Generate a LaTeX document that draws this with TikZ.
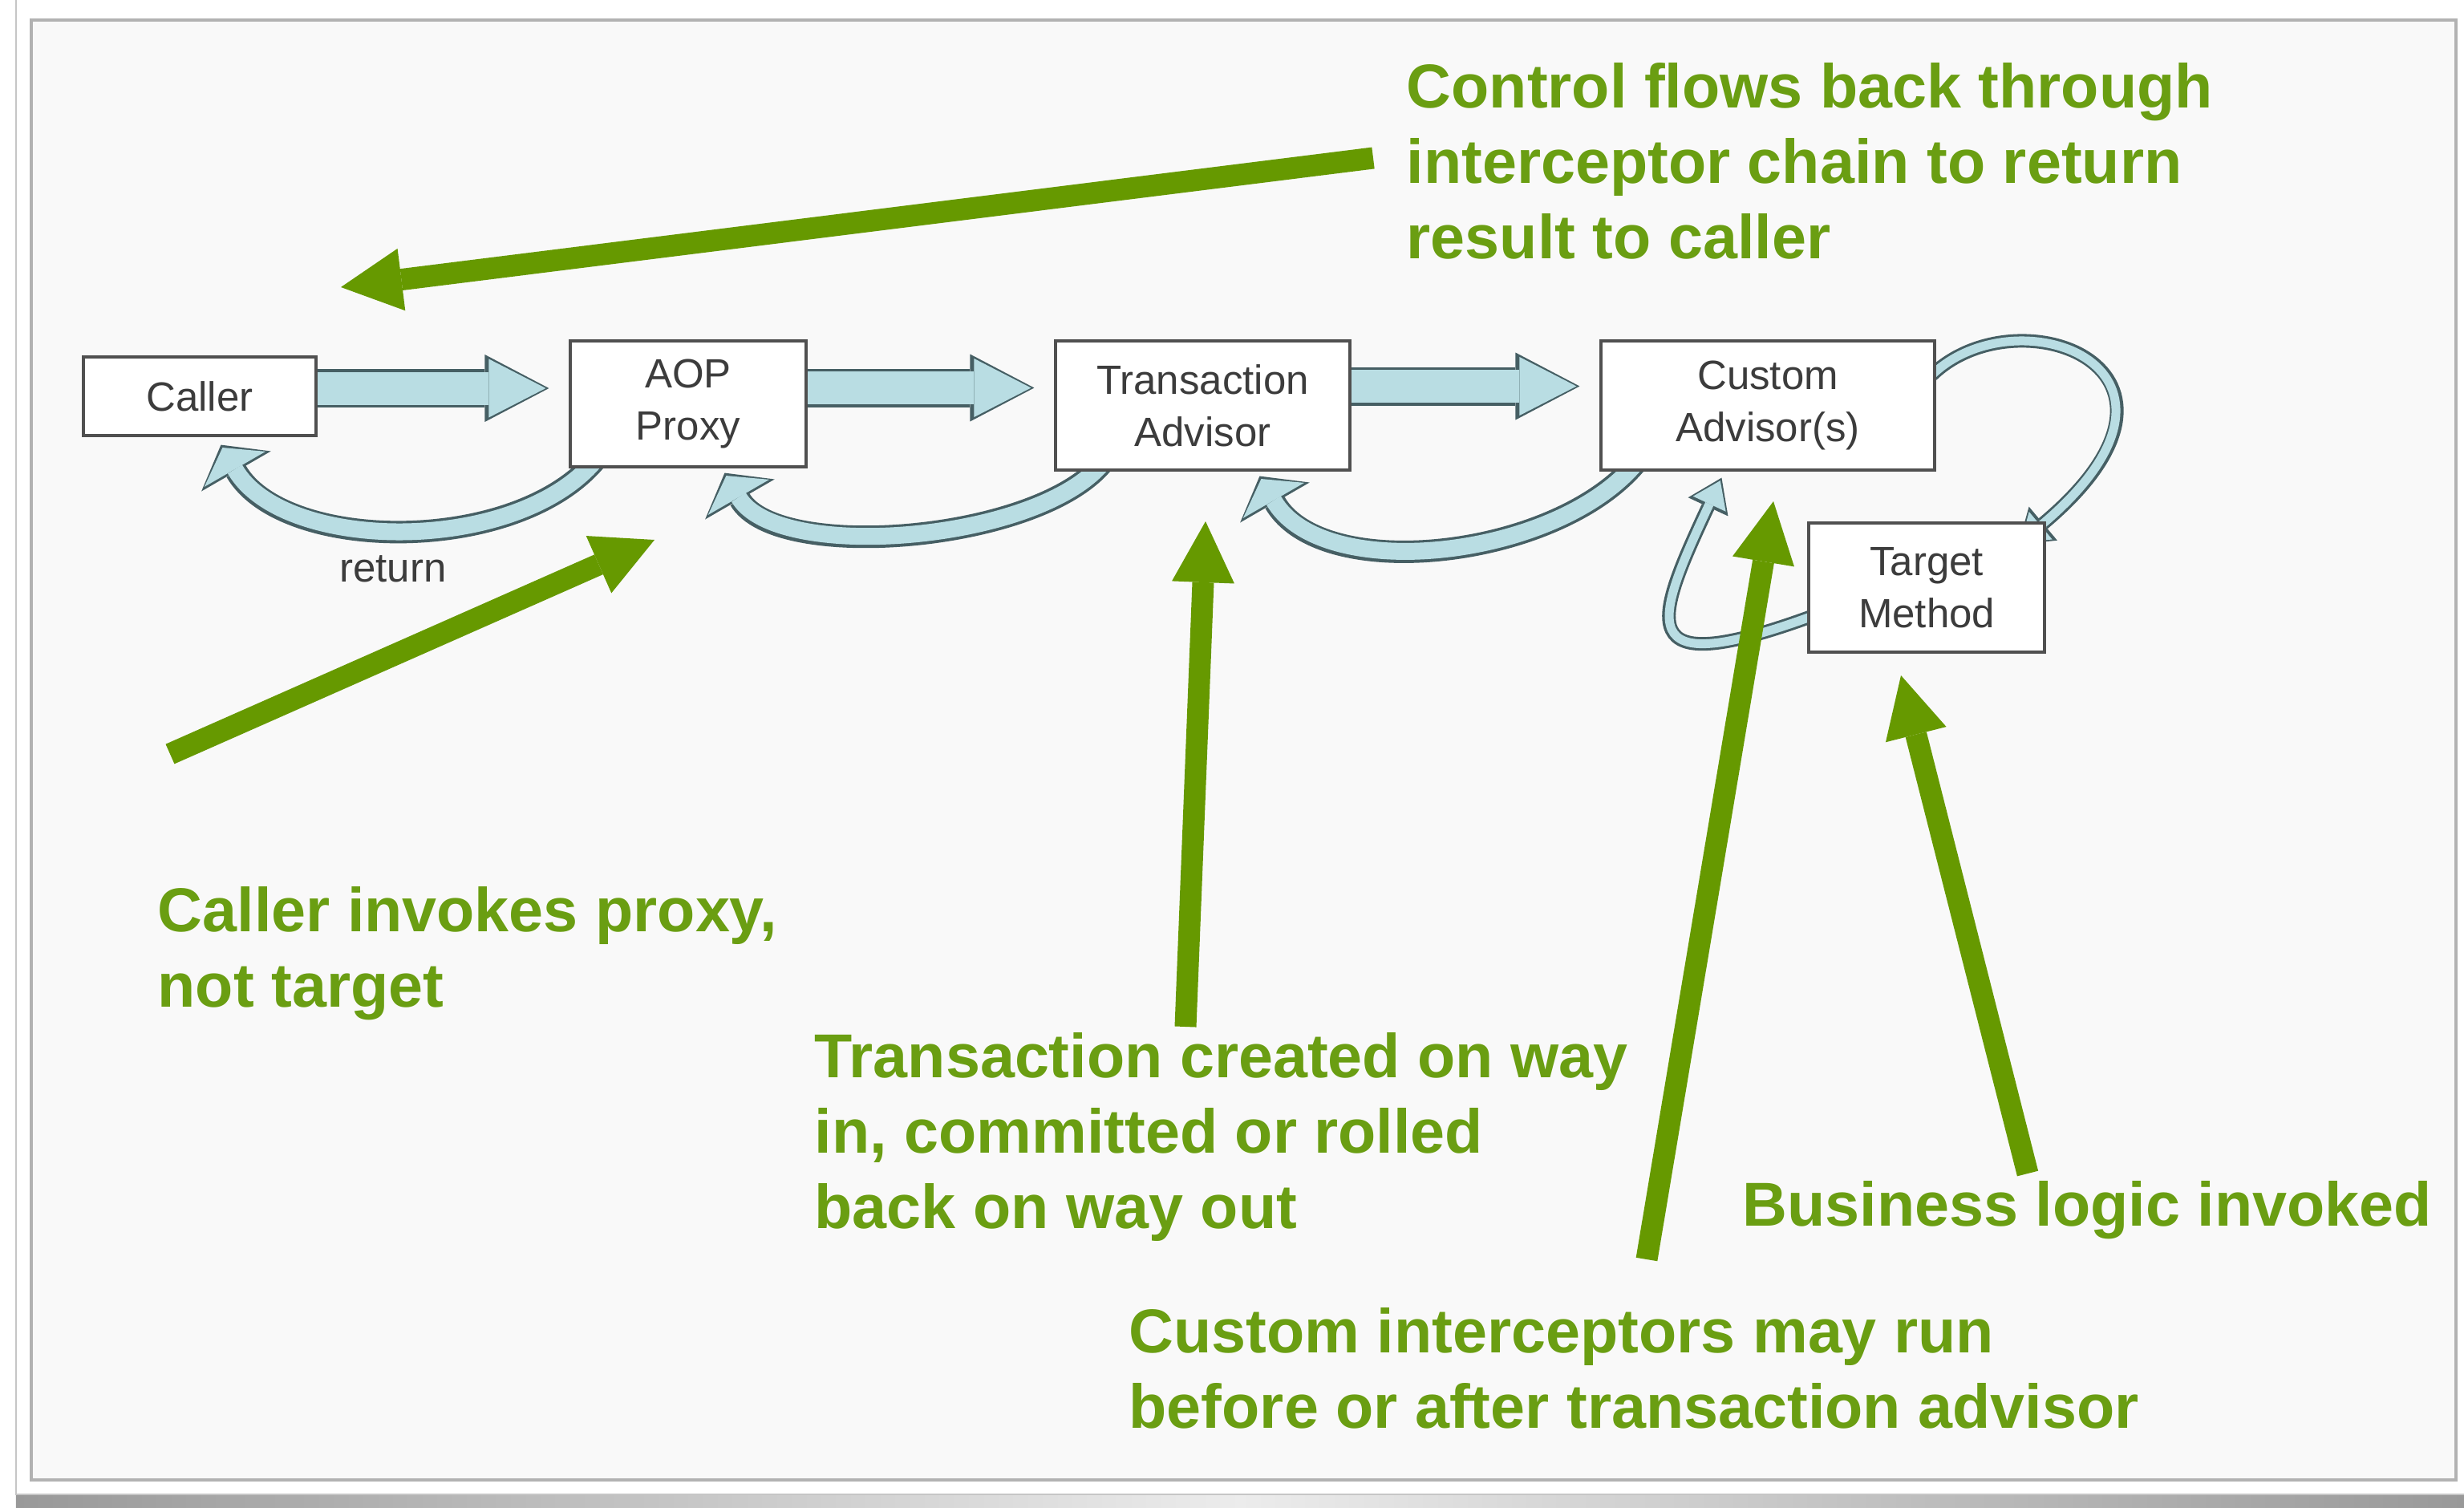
\documentclass[tikz,border=0pt]{standalone}
\usepackage{fontspec}
\setmainfont{Liberation Sans}
\usetikzlibrary{arrows.meta}

\definecolor{panelbg}{RGB}{249,249,249}
\definecolor{boxedge}{RGB}{80,80,80}
\definecolor{boxtext}{RGB}{60,60,60}
\definecolor{bandfill}{RGB}{185,221,227}
\definecolor{bandedge}{RGB}{70,95,100}
\definecolor{arrowgreen}{RGB}{102,153,0}
\definecolor{notegreen}{RGB}{106,158,18}

\pgfdeclarelayer{back}
\pgfdeclarelayer{bands}
\pgfsetlayers{back,bands,main}

\begin{document}
\begin{tikzpicture}
\tikzset{box/.style={rectangle,draw=boxedge,fill=white,line width=0.9pt,inner sep=0pt,align=center,text=boxtext,font=\fontsize{14.5}{18.5}\selectfont},
	flow/.style={draw=bandedge,line width=0.48cm,-{Triangle[width=0.84cm,length=0.8cm,line width=0pt]},shorten >=0.25cm,
		postaction={draw=bandfill,line width=0.41cm,-{Triangle[width=0.73cm,length=0.71cm,line width=0pt]},shorten >=0.29cm}},
	back/.style={draw=bandedge,line width=0.28cm,-{Triangle[width=1.0cm,length=0.38cm,line width=0pt]},
		postaction={draw=bandfill,line width=0.21cm,-{Triangle[width=0.88cm,length=0.31cm,line width=0pt]},shorten >=0.04cm}},
	thinband/.style={draw=bandedge,line width=0.17cm,-{Triangle[width=0.55cm,length=0.40cm,line width=0pt]},
		postaction={draw=bandfill,line width=0.11cm,-{Triangle[width=0.45cm,length=0.32cm,line width=0pt]},shorten >=0.04cm}},
	pointer/.style={draw=arrowgreen,line width=0.27cm,-{Triangle[width=0.78cm,length=0.76cm,line width=0pt]}},
	note/.style={anchor=north west,inner sep=0pt,align=left,text=notegreen,font=\bfseries\fontsize{22}{26.7}\selectfont}}

\useasboundingbox (0,0) rectangle (30.72,-18.79);

\begin{pgfonlayer}{back}
	\fill[white] (0,0) rectangle (30.72,-18.79);
	\shade[left color=gray!80,right color=gray!80,middle color=gray!15] (0.2,-18.63) rectangle (30.72,-18.79);
	\draw[gray!45,line width=0.6pt] (0.2,0) -- (0.2,-18.63) -- (30.72,-18.63);
	\draw[gray!60,line width=1pt,fill=panelbg] (0.39,-0.25) rectangle (30.62,-18.45);
\end{pgfonlayer}

  \draw (2.49,-4.94) node[box,minimum width=2.90cm,minimum height=0.98cm](caller) {Caller};
  \draw (8.58,-5.035) node[box,minimum width=2.94cm,minimum height=1.57cm](proxy) {AOP\\Proxy};
  \draw (14.995,-5.055) node[box,minimum width=3.67cm,minimum height=1.61cm](ta) {Transaction\\Advisor};
  \draw (22.04,-5.055) node[box,minimum width=4.16cm,minimum height=1.61cm](ca) {Custom\\Advisor(s)};
  \draw (24.02,-7.325) node[box,minimum width=2.94cm,minimum height=1.61cm](tm) {Target\\Method};
  \draw (4.90,-7.09) node[text=boxtext,font=\fontsize{14.5}{18.5}\selectfont](ret) {return};

\begin{pgfonlayer}{bands}
	\draw[flow] ([yshift=0.1cm]caller.east) -- ([yshift=0.1cm]caller.east -| proxy.west);
	\draw[flow] ([yshift=0.2cm]proxy.east) -- ([yshift=0.2cm]proxy.east -| ta.west);
	\draw[flow] ([yshift=0.24cm]ta.east) -- ([yshift=0.24cm]ta.east -| ca.west);

	\draw[back] ([xshift=0.33cm,yshift=0.1cm]proxy.south west) to[out=230,in=-60,looseness=0.85] ([xshift=1.73cm,yshift=-0.1cm]caller.south west);
	\draw[back] ([xshift=0.6cm,yshift=0.1cm]ta.south west) to[out=230,in=-60,looseness=0.7] ([xshift=1.94cm,yshift=-0.06cm]proxy.south west);
	\draw[back] ([xshift=0.45cm,yshift=0.1cm]ca.south west) to[out=230,in=-60,looseness=0.85] ([xshift=2.56cm,yshift=-0.06cm]ta.south west);

	\draw[thinband] ([xshift=-0.05cm,yshift=0.38cm]ca.east) .. controls +(44:1.5) and +(40:3.4) .. ([xshift=-0.34cm,yshift=-0.28cm]tm.north east);
	\draw[thinband] ([xshift=0.05cm,yshift=-0.36cm]tm.west) .. controls +(200:2.4) and +(245:2.0) .. ([xshift=1.52cm,yshift=-0.08cm]ca.south west);
\end{pgfonlayer}

  \draw (17.53,-0.78) node[note](ctrlnote) {Control flows back through\\interceptor chain to return\\result to caller};
  \draw (1.96,-11.05) node[note](callnote) {Caller invokes proxy,\\not target};
  \draw (10.15,-12.87) node[note](txnote) {Transaction created on way\\in, committed or rolled\\back on way out};
  \draw (21.72,-14.72) node[note](biznote) {Business logic invoked};
  \draw (14.07,-16.30) node[note](custnote) {Custom interceptors may run\\before or after transaction advisor};

	% green pointers
	\coordinate (ctrl0) at (17.12,-1.97);
	\coordinate (ctrl1) at (4.25,-3.58);
	\coordinate (call0) at (2.12,-9.40);
	\coordinate (call1) at (8.16,-6.73);
	\coordinate (tx0) at (14.78,-12.80);
	\coordinate (tx1) at (15.03,-6.50);
	\coordinate (cust0) at (20.53,-15.70);
	\coordinate (cust1) at (22.11,-6.25);
	\coordinate (biz0) at (25.28,-14.63);
	\coordinate (biz1) at (23.70,-8.42);

	\draw[pointer] (ctrl0) -- (ctrl1);
	\draw[pointer] (call0) -- (call1);
	\draw[pointer] (tx0) -- (tx1);
	\draw[pointer] (cust0) -- (cust1);
	\draw[pointer] (biz0) -- (biz1);
\end{tikzpicture}
\end{document}
